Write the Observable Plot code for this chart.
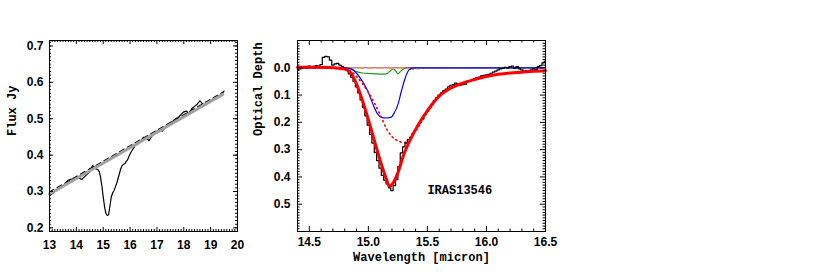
<!DOCTYPE html>
<html><head><meta charset="utf-8">
<script src="https://cdn.jsdelivr.net/npm/d3@7"></script>
<script src="https://cdn.jsdelivr.net/npm/@observablehq/plot@0.6"></script>
<style>
body{margin:0;background:#fff;}
#wrap{position:relative;width:817px;height:272px;overflow:hidden;background:#fff;}
#wrap svg{position:absolute;top:0;}
</style></head><body><div id="wrap"></div>
<script>
// ---------- Left panel: flux ----------
const fluxWave = [13.00,13.10,13.20,13.30,13.40,13.50,13.60,13.70,13.80,13.90,14.00,14.10,14.20,14.30,14.40,14.50,14.60,14.65,14.70,14.80,14.85,14.90,14.95,15.00,15.05,15.10,15.15,15.20,15.25,15.30,15.35,15.40,15.45,15.50,15.55,15.60,15.65,15.70,15.75,15.80,15.85,15.90,15.95,16.00,16.05,16.10,16.20,16.30,16.40,16.50,16.60,16.70,16.80,16.90,17.00,17.10,17.20,17.30,17.40,17.50,17.60,17.70,17.80,17.90,18.00,18.10,18.20,18.30,18.40,18.50,18.60,18.70,18.80,18.90,19.00,19.10,19.20,19.30,19.40,19.45,19.50];
const fluxJy = [0.288,0.294,0.300,0.305,0.309,0.313,0.322,0.331,0.334,0.331,0.336,0.337,0.333,0.340,0.347,0.354,0.371,0.369,0.363,0.360,0.355,0.340,0.315,0.285,0.258,0.240,0.234,0.236,0.260,0.285,0.296,0.302,0.312,0.322,0.335,0.348,0.362,0.371,0.374,0.376,0.382,0.386,0.395,0.403,0.410,0.416,0.427,0.431,0.439,0.449,0.446,0.440,0.451,0.459,0.466,0.470,0.466,0.477,0.483,0.489,0.494,0.500,0.504,0.512,0.519,0.521,0.514,0.528,0.534,0.540,0.549,0.541,0.537,0.543,0.550,0.555,0.559,0.559,0.565,0.572,0.576];
const contWave = [13.00, 19.45];
const contJy = [0.293, 0.567];
const leftXTicks = [13,14,15,16,17,18,19,20];
const leftYTicks = [0.2,0.3,0.4,0.5,0.6,0.7];

// ---------- Right panel: optical depth ----------
const tauWave = [14.40,14.42,14.44,14.46,14.48,14.50,14.52,14.54,14.56,14.58,14.60,14.62,14.64,14.66,14.68,14.70,14.72,14.74,14.76,14.78,14.80,14.82,14.84,14.86,14.88,14.90,14.92,14.94,14.96,14.98,15.00,15.02,15.04,15.06,15.08,15.10,15.12,15.14,15.16,15.18,15.20,15.22,15.24,15.26,15.28,15.30,15.32,15.34,15.36,15.38,15.40,15.42,15.44,15.46,15.48,15.50,15.52,15.54,15.56,15.58,15.60,15.62,15.64,15.66,15.68,15.70,15.72,15.74,15.76,15.78,15.80,15.82,15.84,15.86,15.88,15.90,15.92,15.94,15.96,15.98,16.00,16.02,16.04,16.06,16.08,16.10,16.12,16.14,16.16,16.18,16.20,16.22,16.24,16.26,16.28,16.30,16.32,16.34,16.36,16.38,16.40,16.42,16.44,16.46,16.48,16.50];
const tauObs = [0.008,0.004,0.002,-0.004,0.000,-0.006,-0.002,-0.005,-0.008,-0.006,-0.012,-0.038,-0.042,-0.040,-0.028,-0.010,-0.014,-0.016,-0.010,-0.004,0.002,0.010,0.022,0.034,0.050,0.070,0.092,0.118,0.146,0.176,0.210,0.244,0.276,0.310,0.340,0.368,0.394,0.412,0.426,0.440,0.450,0.432,0.410,0.362,0.312,0.290,0.276,0.262,0.254,0.240,0.228,0.214,0.200,0.188,0.172,0.160,0.146,0.134,0.120,0.110,0.100,0.092,0.084,0.078,0.070,0.064,0.062,0.056,0.060,0.064,0.062,0.060,0.050,0.048,0.044,0.040,0.036,0.034,0.030,0.028,0.026,0.024,0.020,0.016,0.012,0.008,0.004,0.002,-0.002,0.000,-0.004,-0.006,0.002,-0.004,0.004,0.008,0.012,0.010,0.014,0.008,0.004,0.006,-0.004,-0.008,-0.018,-0.024];

const fitWave = [14.40,14.60,14.75,14.80,14.85,14.90,14.95,15.00,15.05,15.10,15.15,15.18,15.20,15.25,15.30,15.35,15.40,15.45,15.50,15.55,15.60,15.70,15.80,15.90,16.00,16.10,16.20,16.30,16.40,16.50];
const fitTotal = [-0.002,-0.002,0.002,0.005,0.018,0.060,0.120,0.190,0.265,0.340,0.405,0.435,0.428,0.385,0.318,0.268,0.226,0.190,0.158,0.128,0.104,0.074,0.056,0.043,0.032,0.024,0.019,0.016,0.013,0.011];

const broadWave = [14.80,14.85,14.90,14.95,15.00,15.05,15.10,15.15,15.20,15.25,15.30,15.35];
const broadTau = [0.004,0.012,0.032,0.058,0.090,0.128,0.172,0.220,0.252,0.268,0.274,0.268];

const blueWave = [14.40,14.80,14.85,14.90,14.95,15.00,15.04,15.08,15.11,15.15,15.19,15.22,15.25,15.28,15.31,15.34,15.37,15.40,16.50];
const blueTau = [0,0,0.003,0.020,0.050,0.090,0.135,0.170,0.182,0.184,0.182,0.165,0.135,0.085,0.040,0.010,0.001,0,0];

const greenWave = [14.40,14.80,14.85,14.90,14.95,15.00,15.05,15.10,15.15,15.18,15.21,15.23,15.25,15.27,15.30,15.33,16.50];
const greenTau = [0,0,0.005,0.014,0.019,0.021,0.022,0.023,0.022,0.014,0.004,0.010,0.022,0.014,0.003,0,0];

const purpleWave = [14.80, 15.40];
const purpleTau = [0.0, 0.0];
const orangeWave = [14.40, 15.30, 15.38, 15.46, 16.50];
const orangeTau = [0.001, 0.001, 0.006, 0.001, 0.001];

const rightXTicks = [14.5,15.0,15.5,16.0,16.5];
const rightYTicks = [0.0,0.1,0.2,0.3,0.4,0.5];
const sourceName = "IRAS13546";

// ---------- helpers ----------
function rows(xs, ys) { return xs.map((x, i) => ({x, y: ys[i]})); }
function frameTicks(xMaj, xMin, yMaj, yMin, innerW, innerH, maj, min) {
  return [
    Plot.tickX(xMaj, {x: d => d, insetTop: innerH - maj, stroke: "black"}),
    Plot.tickX(xMaj, {x: d => d, insetBottom: innerH - maj, stroke: "black"}),
    Plot.tickX(xMin, {x: d => d, insetTop: innerH - min, stroke: "black"}),
    Plot.tickX(xMin, {x: d => d, insetBottom: innerH - min, stroke: "black"}),
    Plot.tickY(yMaj, {y: d => d, insetLeft: innerW - maj, stroke: "black"}),
    Plot.tickY(yMaj, {y: d => d, insetRight: innerW - maj, stroke: "black"}),
    Plot.tickY(yMin, {y: d => d, insetLeft: innerW - min, stroke: "black"}),
    Plot.tickY(yMin, {y: d => d, insetRight: innerW - min, stroke: "black"})
  ];
}
const labelFont = "Liberation Mono";
const tickFont = "Liberation Sans";

// ---------- left plot ----------
{
  const W = 250, H = 272, mL = 49, mR = 13, mT = 40, mB = 41;
  const xDom = [13, 20], yDom = [0.19, 0.715];
  const xMin = d3.range(130, 201).map(i => i / 10).filter(v => !leftXTicks.includes(v));
  const yMin = d3.range(19, 72).map(i => i / 100).filter(v => v <= yDom[1]);
  const flux = rows(fluxWave, fluxJy);
  const cont = rows(contWave, contJy);
  const contHi = rows(contWave, contJy.map(v => v + 0.005));
  const svg = Plot.plot({
    width: W, height: H, marginLeft: mL, marginRight: mR, marginTop: mT, marginBottom: mB,
    x: {domain: xDom}, y: {domain: yDom},
    style: {fontFamily: tickFont, fontSize: "12px", fontWeight: "bold", color: "black", background: "white", overflow: "visible"},
    marks: [
      Plot.axisX(leftXTicks, {tickSize: 0, tickPadding: 9, tickFormat: d => String(d), label: null, fontSize: 12}),
      Plot.axisY(leftYTicks, {tickSize: 0, tickPadding: 6, tickFormat: d3.format(".1f"), label: null, fontSize: 12}),
      Plot.line(flux, {x: "x", y: "y", stroke: "black", strokeWidth: 1.2}),
      Plot.line(contHi, {x: "x", y: "y", stroke: "black", strokeWidth: 1.5, strokeDasharray: "5,4"}),
      Plot.line(cont, {x: "x", y: "y", stroke: "#a0a0a0", strokeWidth: 3}),
      ...frameTicks(leftXTicks, xMin, leftYTicks, yMin, W - mL - mR, H - mT - mB, 4, 2),
      Plot.frame({stroke: "black", strokeWidth: 1}),
      Plot.text(["Flux Jy"], {frameAnchor: "left", dx: -37, rotate: -90, text: d => d, fontFamily: labelFont, fontSize: 12, fontWeight: "bold"})
    ]
  });
  svg.style.left = "0px";
  document.getElementById("wrap").appendChild(svg);
}

// ---------- right plot ----------
{
  const W = 320, H = 272, mL = 47, mR = 25, mT = 40, mB = 41;
  const xDom = [14.4, 16.5], yDom = [-0.1, 0.6];
  const xMin = d3.range(144, 166).map(i => i / 10).filter(v => !rightXTicks.some(t => Math.abs(t - v) < 1e-9));
  const yMin = d3.range(-10, 61).map(i => i / 100).filter(v => !rightYTicks.some(t => Math.abs(t - v) < 1e-9));
  const yMaj = [-0.1, ...rightYTicks, 0.6];
  const svg = Plot.plot({
    width: W, height: H, marginLeft: mL, marginRight: mR, marginTop: mT, marginBottom: mB,
    x: {domain: xDom}, y: {domain: yDom, reverse: true},
    style: {fontFamily: tickFont, fontSize: "12px", fontWeight: "bold", color: "black", background: "white", overflow: "visible"},
    marks: [
      Plot.axisX(rightXTicks, {tickSize: 0, tickPadding: 6, tickFormat: d3.format(".1f"), label: null, fontSize: 12}),
      Plot.axisY(rightYTicks, {tickSize: 0, tickPadding: 7, tickFormat: d3.format(".1f"), label: null, fontSize: 12}),
      Plot.line(rows(greenWave, greenTau), {x: "x", y: "y", stroke: "#1f9a1f", strokeWidth: 1.2, curve: "monotone-x"}),
      Plot.line(rows(purpleWave, purpleTau), {x: "x", y: "y", stroke: "#a030e0", strokeWidth: 1}),
      Plot.line(rows(orangeWave, orangeTau), {x: "x", y: "y", stroke: "#ff9a20", strokeWidth: 1.5, strokeDasharray: "6,4", curve: "monotone-x"}),
      Plot.line(rows(blueWave, blueTau), {x: "x", y: "y", stroke: "#0000ff", strokeWidth: 1.2, curve: "monotone-x"}),
      Plot.line(rows(broadWave, broadTau), {x: "x", y: "y", stroke: "#ff0000", strokeWidth: 1.6, strokeDasharray: "1.2,3.5", curve: "monotone-x"}),
      Plot.line(rows(tauWave, tauObs), {x: "x", y: "y", stroke: "black", strokeWidth: 1.2, curve: "step"}),
      Plot.line(rows(fitWave, fitTotal), {x: "x", y: "y", stroke: "#ff0000", strokeWidth: 3, curve: "monotone-x"}),
      ...frameTicks(rightXTicks.concat([14.4]), xMin, yMaj, yMin, W - mL - mR, H - mT - mB, 5, 2.5),
      Plot.frame({stroke: "black", strokeWidth: 1}),
      Plot.text([{x: 15.5, y: 0.45, t: sourceName}], {x: "x", y: "y", text: "t", textAnchor: "start", fontFamily: labelFont, fontSize: 12, fontWeight: "bold"}),
      Plot.text(["Optical Depth"], {frameAnchor: "left", dx: -39, rotate: -90, text: d => d, fontFamily: labelFont, fontSize: 12, fontWeight: "bold"}),
      Plot.text(["Wavelength [micron]"], {frameAnchor: "bottom", dy: 29, text: d => d, fontFamily: labelFont, fontSize: 12, fontWeight: "bold"})
    ]
  });
  svg.style.left = "250px";
  document.getElementById("wrap").appendChild(svg);
}
</script></body></html>
